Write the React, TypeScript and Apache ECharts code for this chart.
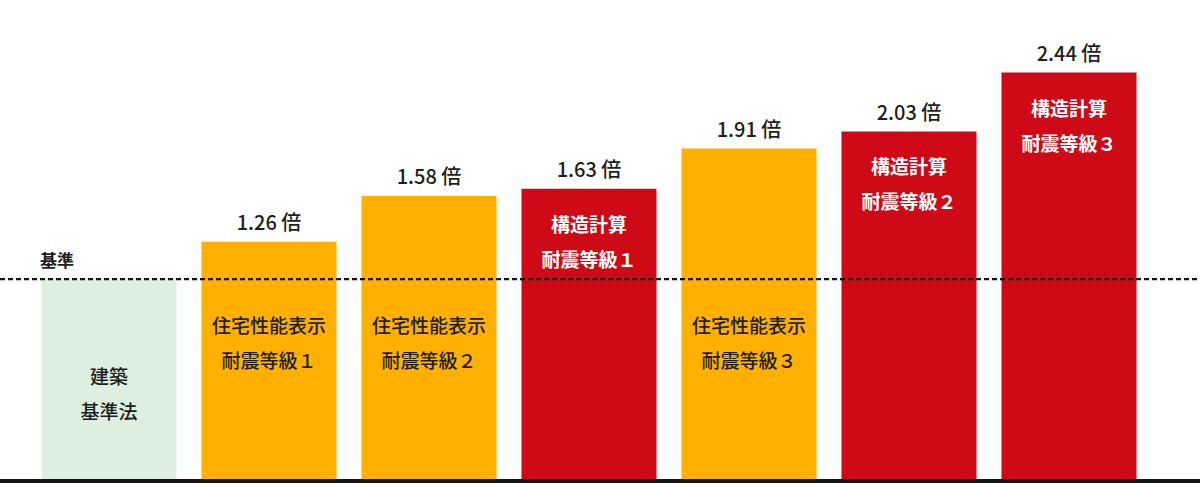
import React, { useEffect, useRef } from 'react';
import * as echarts from 'echarts';

// Seismic-capacity comparison: each bar is a multiple of the Building Standard Act level.
const categories = [
  '建築基準法',
  '住宅性能表示 耐震等級1',
  '住宅性能表示 耐震等級2',
  '構造計算 耐震等級1',
  '住宅性能表示 耐震等級3',
  '構造計算 耐震等級2',
  '構造計算 耐震等級3',
];
const barTextLines = [
  ['建築', '基準法'],
  ['住宅性能表示', '耐震等級１'],
  ['住宅性能表示', '耐震等級２'],
  ['構造計算', '耐震等級１'],
  ['住宅性能表示', '耐震等級３'],
  ['構造計算', '耐震等級２'],
  ['構造計算', '耐震等級３'],
];
const ratios = [1.0, 1.26, 1.58, 1.63, 1.91, 2.03, 2.44];
const kinds = ['base', 'house', 'house', 'struct', 'house', 'struct', 'struct'];
const showRatio = [false, true, true, true, true, true, true];
const baselineValue = 1.0;
const baselineLabel = '基準';
const ratioUnit = '倍';

// Value-axis extent
const Y_MIN = -0.394;
const Y_MAX = 2.8;

const FONT = '"Noto Sans CJK JP", "Noto Sans", sans-serif';

type KindStyle = { fill: string; text: string; weight: number; anchor: 'top' | 'bottom'; offset: number };
const kindStyle: Record<string, KindStyle> = {
  base: { fill: '#DDF0DF', text: '#1E1E1E', weight: 500, anchor: 'bottom', offset: 86 },
  house: { fill: '#FFB000', text: '#1E1E1E', weight: 500, anchor: 'bottom', offset: 137 },
  struct: { fill: '#CD0A16', text: '#FFFFFF', weight: 700, anchor: 'top', offset: 52 },
};

export default function App() {
  const ref = useRef<HTMLDivElement>(null);

  useEffect(() => {
    if (!ref.current) return;
    const chart = echarts.init(ref.current, undefined, { renderer: 'svg' });

    const barItem = (params: any, api: any) => {
      const i = api.value(0);
      const v = api.value(1);
      const top = api.coord([i, v]);
      const bottom = api.coord([i, Y_MIN]);
      const bw = api.size([1, 0])[0] * 0.844;
      const ks = kindStyle[kinds[params.dataIndex]];
      const textY =
        ks.anchor === 'top' ? top[1] + ks.offset : bottom[1] - ks.offset;
      const children: any[] = [
        {
          type: 'rect',
          shape: { x: top[0] - bw / 2, y: top[1], width: bw, height: bottom[1] - top[1] },
          style: { fill: ks.fill },
        },
        {
          type: 'text',
          x: top[0],
          y: textY,
          style: {
            text: barTextLines[params.dataIndex].join('\n'),
            fill: ks.text,
            fontSize: 19,
            fontWeight: ks.weight,
            fontFamily: FONT,
            lineHeight: 35,
            align: 'center',
            verticalAlign: 'middle',
          },
        },
      ];
      if (showRatio[params.dataIndex]) {
        children.push({
          type: 'text',
          x: top[0],
          y: top[1] - 20,
          style: {
            text: `${v.toFixed(2)} ${ratioUnit}`,
            fill: '#1E1E1E',
            fontSize: 20,
            fontWeight: 500,
            fontFamily: FONT,
            align: 'center',
            verticalAlign: 'middle',
          },
        });
      }
      return { type: 'group', children };
    };

    const baselineItem = (params: any, api: any) => {
      const y = api.coord([0, api.value(1)])[1];
      return {
        type: 'group',
        children: [
          {
            type: 'line',
            shape: { x1: 0, y1: y, x2: api.getWidth(), y2: y },
            style: { stroke: '#111111', lineWidth: 2.2, lineDash: [5, 3] },
          },
          {
            type: 'text',
            x: 40,
            y: y - 20,
            style: {
              text: baselineLabel,
              fill: '#1E1E1E',
              fontSize: 17,
              fontWeight: 700,
              fontFamily: FONT,
              align: 'left',
              verticalAlign: 'middle',
            },
          },
        ],
      };
    };

    chart.setOption({
      animation: false,
      backgroundColor: '#FFFFFF',
      grid: { left: 29, right: 51, top: 21, bottom: 4 },
      xAxis: { type: 'category', data: categories, show: false },
      yAxis: { type: 'value', min: Y_MIN, max: Y_MAX, show: false },
      series: [
        {
          type: 'custom',
          clip: false,
          z: 2,
          data: ratios.map((v, i) => [i, v]),
          renderItem: barItem,
        },
        {
          type: 'custom',
          clip: false,
          z: 5,
          data: [[0, baselineValue]],
          renderItem: baselineItem,
        },
      ],
      graphic: [
        {
          type: 'rect',
          left: 0,
          bottom: 0,
          z: 10,
          shape: { width: 1200, height: 4 },
          style: { fill: '#151515' },
        },
      ],
    });

    return () => chart.dispose();
  }, []);

  return (
    <div
      ref={ref}
      style={{ position: 'fixed', left: 0, top: 0, width: 1200, height: 483 }}
    />
  );
}
